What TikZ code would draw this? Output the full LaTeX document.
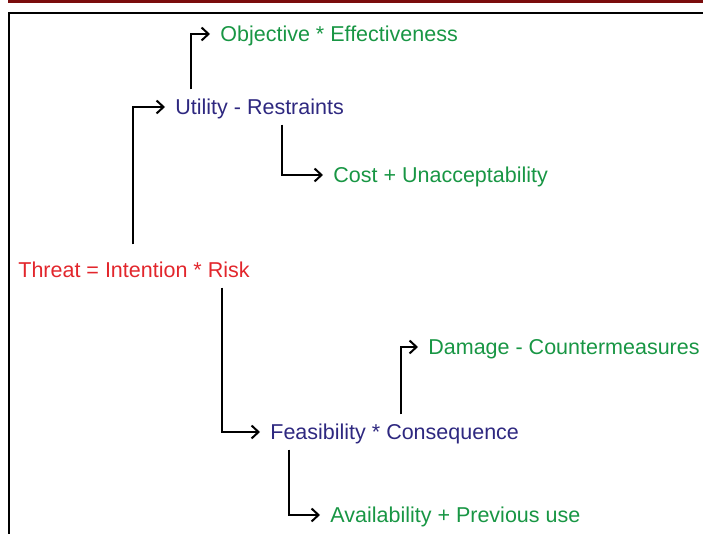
\documentclass[tikz,border=0pt]{standalone}
\usepackage{fontspec}
\setmainfont{Liberation Sans}
\usetikzlibrary{arrows.meta}
\definecolor{barred}{RGB}{122,12,12}
\definecolor{threatred}{RGB}{226,38,44}
\definecolor{factorblue}{RGB}{46,40,128}
\definecolor{termgreen}{RGB}{24,150,68}

\begin{document}
\begin{tikzpicture}[x=0.5pt,y=-0.5pt]
        \tikzstyle{every node}+=[inner sep=5pt,anchor=west,text height=0.72em,text depth=0pt,font=\fontsize{10.75}{13}\selectfont]
        \tikzstyle{link}=[line width=1pt,-{Straight Barb[length=3.5pt,width=6.5pt]}]
        \useasboundingbox (0,0) rectangle (703,534);
        % frame
        \fill [barred] (8,0) rectangle (703,3);
        \draw [line width=1pt] (703,13) -- (8.5,13) -- (8.5,534);
        % terms
        \node [threatred] (threat) at (8,270) {Threat = Intention * Risk};
        \node [factorblue] (utility) at (165,107) {Utility - Restraints};
        \node [termgreen] (objective) at (210,34) {Objective * Effectiveness};
        \node [termgreen] (cost) at (323,175) {Cost + Unacceptability};
        \node [factorblue] (feasibility) at (260,432) {Feasibility * Consequence};
        \node [termgreen] (damage) at (418,347) {Damage - Countermeasures};
        \node [termgreen] (availability) at (320,515) {Availability + Previous use};
        % links
        \draw [link,shorten <=4pt] ([xshift=62.5pt]threat.north west) |- (utility.west);
        \draw [link] ([xshift=13pt]utility.north west) |- (objective.west);
        \draw [link] ([xshift=58.5pt]utility.south west) |- (cost.west);
        \draw [link] ([xshift=107pt]threat.south west) |- (feasibility.west);
        \draw [link] ([xshift=70.5pt]feasibility.north west) |- (damage.west);
        \draw [link] ([xshift=14.5pt]feasibility.south west) |- (availability.west);
\end{tikzpicture}
\end{document}
